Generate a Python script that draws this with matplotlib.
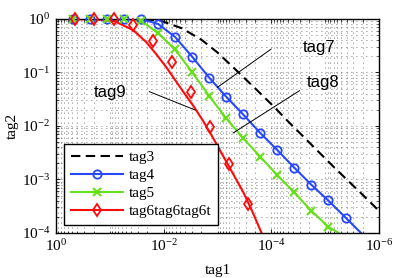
import matplotlib
matplotlib.use('Agg')
import matplotlib.pyplot as plt
from matplotlib.lines import Line2D
from matplotlib.ticker import FixedLocator, LogFormatterSciNotation, NullFormatter
import numpy as np

plt.rcParams['font.family'] = ['Liberation Serif', 'DejaVu Serif']
plt.rcParams['mathtext.fontset'] = 'stix'

# tag3 (dashed, no markers)
x_tag3 = [1.0, 0.02746, 0.01167, 4.59e-3, 1.96e-3, 1.03e-3, 5.42e-4, 2.85e-4, 1.61e-4,
          8.49e-5, 4.87e-5, 2.56e-5, 1.35e-5, 7.41e-6, 3.90e-6, 2.05e-6, 1.0e-6]
y_tag3 = [1.0, 0.995, 0.938, 0.670, 0.405, 0.242, 0.132, 0.0709, 0.0408,
          0.0217, 0.0121, 6.37e-3, 3.34e-3, 1.83e-3, 9.79e-4, 5.25e-4, 2.58e-4]

# shared x of the tag4 / tag5 points
x_pts = [0.483, 0.233, 0.1127, 0.0545, 0.0263, 0.0127, 6.14e-3, 2.96e-3, 1.43e-3,
         6.92e-4, 3.34e-4, 1.61e-4, 7.80e-5, 3.77e-5, 1.82e-5, 8.79e-6, 4.07e-6]

y_tag4 = [1.0, 1.0, 1.0, 1.0, 1.0, 0.807, 0.461, 0.197, 0.080,
          0.0353, 0.0164, 7.40e-3, 3.56e-3, 1.67e-3, 8.0e-4, 4.05e-4, 1.88e-4]
y_tag5 = [1.0, 1.0, 1.0, 1.0, 0.929, 0.541, 0.269, 0.101, 0.0364,
          0.0139, 5.89e-3, 2.67e-3, 1.21e-3, 5.71e-4, 2.61e-4, 1.31e-4]

# line end points beyond the last marker
tag4_end = (1.0e-6, 4.62e-5)
tag5_end = (5.0e-6, 9.3e-5)

# tag6 curve and its markers
x_tag6_line = [1.0, 0.188, 0.0836, 0.0371, 0.02123, 0.01384, 9.02e-3, 6.14e-3, 4.18e-3,
               2.72e-3, 1.85e-3, 1.21e-3, 7.87e-4, 5.13e-4, 3.34e-4, 2.28e-4, 1.61e-4, 1.20e-4]
y_tag6_line = [1.0, 0.983, 0.918, 0.622, 0.3715, 0.2218, 0.1268, 0.0724, 0.0414,
               0.02265, 0.01239, 5.97e-3, 2.75e-3, 1.268e-3, 5.83e-4, 2.58e-4, 1.14e-4, 5.71e-5]
x_tag6_pts = [0.438, 0.194, 0.0824, 0.0366, 0.0160, 7.08e-3, 3.10e-3, 1.37e-3, 6.01e-4, 2.67e-4]
y_tag6_pts = [1.0, 1.0, 1.0, 0.773, 0.388, 0.157, 0.0438, 9.57e-3, 1.92e-3, 3.44e-4]

labels = ['tag3', 'tag4', 'tag5', 'tag6tag6tag6t']

c_blue = '#2848ff'
c_green = '#66e01a'
c_red = '#ff0a0a'

fig = plt.figure(figsize=(3.99, 2.78), dpi=100)
ax = fig.add_axes([0.1404, 0.162, 0.8096, 0.7697])
ax.set_xscale('log')
ax.set_yscale('log')

lw = 1.5
ax.plot(x_tag3, y_tag3, color='k', lw=lw, dashes=(4.5, 2.6))

ax.plot([1.0] + x_pts + [tag4_end[0]], [1.0] + y_tag4 + [tag4_end[1]], color=c_blue, lw=lw)
ax.plot(x_pts, y_tag4, ls='none', marker='o', ms=6, mfc='none', mec=c_blue, mew=1.3,
        clip_on=False, zorder=4)

x5 = x_pts[:len(y_tag5)]
ax.plot([1.0] + x5 + [tag5_end[0]], [1.0] + y_tag5 + [tag5_end[1]], color=c_green, lw=lw)
ax.plot(x5, y_tag5, ls='none', marker='x', ms=6, mec=c_green, mew=1.5,
        clip_on=False, zorder=4)

ax.plot(x_tag6_line, y_tag6_line, color=c_red, lw=lw)
ax.plot(x_tag6_pts, y_tag6_pts, ls='none', marker='d', ms=6.5, mfc='none', mec=c_red, mew=1.3,
        clip_on=False, zorder=4)

ax.set_xlim(1, 1e-6)
ax.set_ylim(1e-4, 1)

# ticks
xmaj = [1, 1e-2, 1e-4, 1e-6]
xmin = []
for e in range(0, 6):
    base = 10.0 ** (-e - 1)
    for m in range(1, 10):
        v = base * m
        if not any(np.isclose(v, t) for t in xmaj):
            xmin.append(v)
ax.xaxis.set_major_locator(FixedLocator(xmaj))
ax.xaxis.set_minor_locator(FixedLocator(xmin))
ax.xaxis.set_major_formatter(LogFormatterSciNotation())
ax.xaxis.set_minor_formatter(NullFormatter())

ymaj = [1, 1e-1, 1e-2, 1e-3, 1e-4]
ymin = [10.0 ** (-e - 1) * m for e in range(0, 4) for m in range(2, 10)]
ax.yaxis.set_major_locator(FixedLocator(ymaj))
ax.yaxis.set_minor_locator(FixedLocator(ymin))
ax.yaxis.set_major_formatter(LogFormatterSciNotation())
ax.yaxis.set_minor_formatter(NullFormatter())

ax.tick_params(which='both', direction='in', top=True, right=True, labelsize=11, pad=4)
ax.tick_params(which='major', length=3, width=0.6)
ax.tick_params(which='minor', length=1.8, width=0.5)
ax.grid(True, which='both', ls=(0, (1, 5)), color='0.3', lw=0.6)
for s in ax.spines.values():
    s.set_linewidth(1.0)

ax.set_xlabel('tag1', fontsize=11, labelpad=7)
ax.set_ylabel('tag2', fontsize=11, labelpad=2)

# annotations
sans = ['Liberation Sans', 'DejaVu Sans']
ax.text(2.56e-5, 0.238, 'tag7', family=sans, fontsize=12, va='baseline', ha='left')
ax.plot([1.02e-4, 1.0e-3], [0.272, 0.0529], color='k', lw=0.7)
ax.text(2.25e-5, 0.0529, 'tag8', family=sans, fontsize=12, va='baseline', ha='left')
ax.plot([3.0e-5, 5.13e-4], [0.0457, 7.40e-3], color='k', lw=0.7)
ax.text(0.203, 0.0353, 'tag9', family=sans, fontsize=12, va='baseline', ha='left')
ax.plot([0.01845, 2.61e-3], [0.0438, 0.0199], color='k', lw=0.7)

handles = [
    Line2D([], [], color='k', lw=lw, dashes=(4.5, 2.6)),
    Line2D([], [], color=c_blue, lw=lw, marker='o', ms=6, mfc='none', mew=1.3),
    Line2D([], [], color=c_green, lw=lw, marker='x', ms=6, mew=1.5),
    Line2D([], [], color=c_red, lw=lw, marker='d', ms=6.5, mfc='none', mew=1.3),
]
leg = ax.legend(handles, labels, loc='lower left', bbox_to_anchor=(0.026, 0.037),
                borderaxespad=0, fontsize=11, handlelength=3.4, handletextpad=0.35,
                labelspacing=0.28, borderpad=0.45, fancybox=False, framealpha=1,
                edgecolor='k')
leg.get_frame().set_linewidth(1.0)

fig.savefig('out.png', dpi=100)
